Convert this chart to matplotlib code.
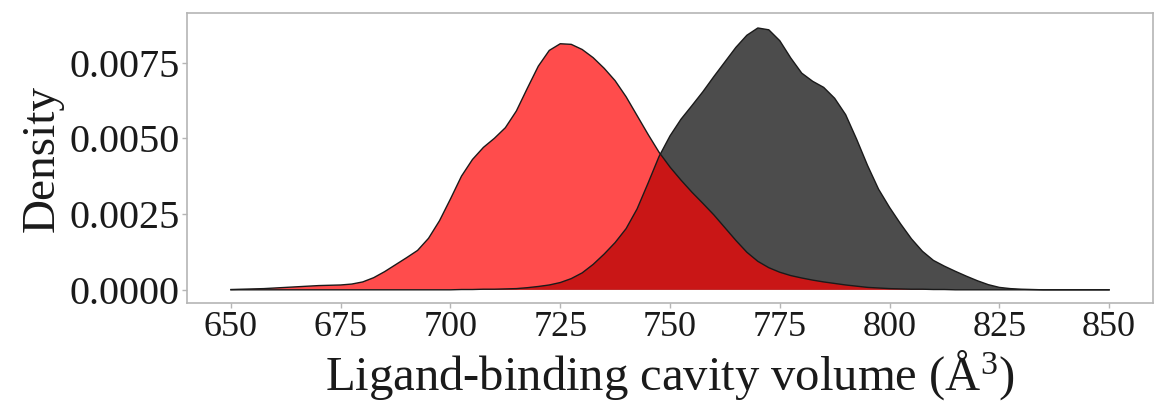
import matplotlib
matplotlib.use("Agg")
import matplotlib.pyplot as plt

# Data: kernel density estimates (x in Å^3)
volume = [650.0, 652.5, 655.0, 657.5, 660.0, 662.5, 665.0, 667.5, 670.0, 672.5,
          675.0, 677.5, 680.0, 682.5, 685.0, 687.5, 690.0, 692.5, 695.0, 697.5,
          700.0, 702.5, 705.0, 707.5, 710.0, 712.5, 715.0, 717.5, 720.0, 722.5,
          725.0, 727.5, 730.0, 732.5, 735.0, 737.5, 740.0, 742.5, 745.0, 747.5,
          750.0, 752.5, 755.0, 757.5, 760.0, 762.5, 765.0, 767.5, 770.0, 772.5,
          775.0, 777.5, 780.0, 782.5, 785.0, 787.5, 790.0, 792.5, 795.0, 797.5,
          800.0, 802.5, 805.0, 807.5, 810.0, 812.5, 815.0, 817.5, 820.0, 822.5,
          825.0, 827.5, 830.0, 832.5, 835.0, 837.5, 840.0, 842.5, 845.0, 847.5,
          850.0]

density_red = [0.00001, 0.00002, 0.00003, 0.00004, 0.00006, 0.00008, 0.00010, 0.00012, 0.00014, 0.00015,
               0.00016, 0.00019, 0.00026, 0.00040, 0.00060, 0.00083, 0.00106, 0.00130, 0.00170, 0.00228,
               0.00300, 0.00375, 0.00430, 0.00470, 0.00500, 0.00535, 0.00590, 0.00665, 0.00738, 0.00790,
               0.00812, 0.00810, 0.00793, 0.00766, 0.00731, 0.00690, 0.00637, 0.00575, 0.00513, 0.00454,
               0.00405, 0.00362, 0.00322, 0.00285, 0.00247, 0.00205, 0.00163, 0.00124, 0.00094, 0.00073,
               0.00058, 0.00047, 0.00039, 0.00032, 0.00026, 0.00021, 0.00016, 0.00012, 0.00008, 0.00006,
               0.00004, 0.00003, 0.00002, 0.00002, 0.00001, 0.00001, 0.0, 0.0, 0.0, 0.0,
               0.0, 0.0, 0.0, 0.0, 0.0, 0.0, 0.0, 0.0, 0.0, 0.0,
               0.0]

density_black = [0.0, 0.0, 0.0, 0.0, 0.0, 0.0, 0.0, 0.0, 0.0, 0.0,
                 0.0, 0.0, 0.0, 0.0, 0.0, 0.0, 0.0, 0.0, 0.0, 0.0,
                 0.0, 0.00001, 0.00001, 0.00002, 0.00002, 0.00003, 0.00004, 0.00007, 0.00011, 0.00016,
                 0.00024, 0.00037, 0.00056, 0.00084, 0.00118, 0.00156, 0.00202, 0.00267, 0.00352, 0.00440,
                 0.00508, 0.00563, 0.00608, 0.00654, 0.00704, 0.00752, 0.00800, 0.00840, 0.00864, 0.00858,
                 0.00822, 0.00765, 0.00715, 0.00688, 0.00668, 0.00632, 0.00578, 0.00497, 0.00410, 0.00332,
                 0.00272, 0.00218, 0.00168, 0.00127, 0.00097, 0.00078, 0.00061, 0.00045, 0.00030, 0.00017,
                 0.00008, 0.00004, 0.00002, 0.00001, 0.0, 0.0, 0.0, 0.0, 0.0, 0.0,
                 0.0]

x_ticks = [650, 675, 700, 725, 750, 775, 800, 825, 850]
y_ticks = [0.0, 0.0025, 0.0050, 0.0075]
y_tick_labels = ["0.0000", "0.0025", "0.0050", "0.0075"]

plt.rcParams['font.family'] = ['Liberation Serif', 'DejaVu Serif']
plt.rcParams['mathtext.fontset'] = 'custom'
plt.rcParams['mathtext.rm'] = 'Liberation Serif'
plt.rcParams['mathtext.it'] = 'Liberation Serif:italic'

fig = plt.figure(figsize=(11.56, 4.04), dpi=100)
ax = fig.add_axes([0.1618, 0.25, 0.8356, 0.7175])

for dens, col in [(density_black, '#000000'), (density_red, '#FF0000')]:
    ax.fill_between(volume, 0, dens, facecolor=col, alpha=0.7, linewidth=0, zorder=2)
    ax.plot(volume, dens, color='#1a1a1a', linewidth=1.0, zorder=3,
            solid_joinstyle='round')

ax.set_xlim(640, 860)
ax.set_ylim(-0.000435, 0.00913)
ax.set_xticks(x_ticks)
ax.set_xticklabels([str(v) for v in x_ticks], fontsize=26)
ax.set_yticks(y_ticks)
ax.set_yticklabels(y_tick_labels, fontsize=29)

for sp in ax.spines.values():
    sp.set_color('#b5b5b5')
    sp.set_linewidth(1.2)
ax.tick_params(axis='both', colors='#b5b5b5', length=3.5, width=1.0, labelcolor='#1a1a1a', pad=2)

ax.set_xlabel('Ligand-binding cavity volume (Å$^{3}$)', fontsize=35, color='#1a1a1a', labelpad=3)
ax.set_ylabel('Density', fontsize=34, color='#1a1a1a', labelpad=4)

fig.savefig('out.png', dpi=100, facecolor='white')
